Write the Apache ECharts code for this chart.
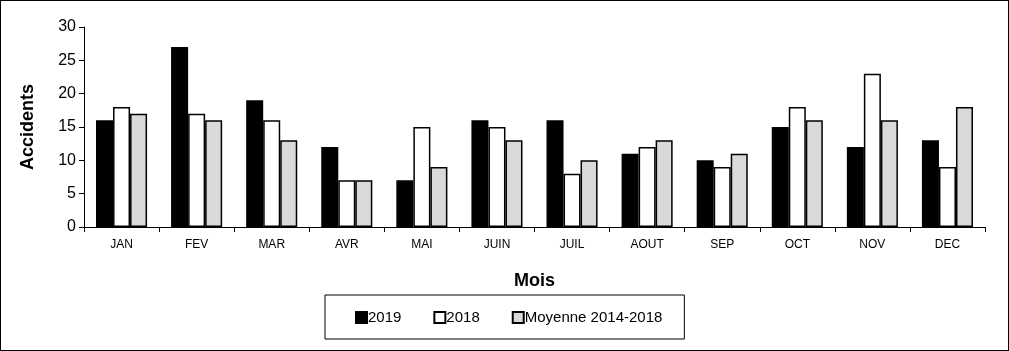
<!DOCTYPE html>
<html>
<head>
<meta charset="utf-8">
<script src="https://cdn.jsdelivr.net/npm/echarts@6/dist/echarts.min.js"></script>
<style>
  html, body { margin: 0; padding: 0; background: #fff; }
  #chart { width: 1009px; height: 351px; box-sizing: border-box; border: 1px solid #000; }
</style>
</head>
<body>
<div id="chart"></div>
<script>
var months = ['JAN', 'FEV', 'MAR', 'AVR', 'MAI', 'JUIN', 'JUIL', 'AOUT', 'SEP', 'OCT', 'NOV', 'DEC'];
var data2019 = [16, 27, 19, 12, 7, 16, 16, 11, 10, 15, 12, 13];
var data2018 = [18, 17, 16, 7, 15, 15, 8, 12, 9, 18, 23, 9];
var dataMoyenne = [17, 16, 13, 7, 9, 13, 10, 13, 11, 16, 16, 18];

var font = 'Liberation Sans, Arial, sans-serif';

function barSeries(name, data, color) {
    return {
        name: name,
        type: 'bar',
        data: data,
        barGap: '0%',
        barCategoryGap: '32%',
        itemStyle: {
            color: color,
            borderColor: '#000',
            borderWidth: 1.5
        }
    };
}

var myChart = echarts.init(document.getElementById('chart'));
myChart.setOption({
    animation: false,
    textStyle: { fontFamily: font, color: '#000' },
    grid: { left: 83, right: 23, top: 26, bottom: 123 },
    legend: {
        left: 324,
        top: 294,
        padding: [15, 22, 14, 30],
        borderColor: '#000',
        borderWidth: 1,
        itemGap: 32,
        itemWidth: 11,
        itemHeight: 11,
        icon: 'rect',
        textStyle: { fontFamily: font, fontSize: 15, color: '#000', padding: [0, 0, 0, -4] },
        data: ['2019', '2018', 'Moyenne 2014-2018']
    },
    xAxis: {
        type: 'category',
        data: months,
        name: 'Mois',
        nameLocation: 'middle',
        nameGap: 45,
        nameTextStyle: { fontFamily: font, fontSize: 18, fontWeight: 'bold', color: '#000' },
        axisLine: { lineStyle: { color: '#000', width: 1 } },
        axisTick: { show: true, alignWithLabel: false, length: 5, lineStyle: { color: '#000' } },
        axisLabel: { fontFamily: font, fontSize: 12, color: '#000', margin: 12 }
    },
    yAxis: {
        type: 'value',
        min: 0,
        max: 30,
        interval: 5,
        name: 'Accidents',
        nameLocation: 'middle',
        nameGap: 47,
        nameTextStyle: { fontFamily: font, fontSize: 18, fontWeight: 'bold', color: '#000' },
        axisLine: { show: true, lineStyle: { color: '#000', width: 1 } },
        axisTick: { show: true, length: 5, lineStyle: { color: '#000' } },
        axisLabel: { fontFamily: font, fontSize: 16, color: '#000', margin: 8 },
        splitLine: { show: false }
    },
    series: [
        barSeries('2019', data2019, '#000'),
        barSeries('2018', data2018, '#fff'),
        barSeries('Moyenne 2014-2018', dataMoyenne, '#d9d9d9')
    ]
});
</script>
</body>
</html>
